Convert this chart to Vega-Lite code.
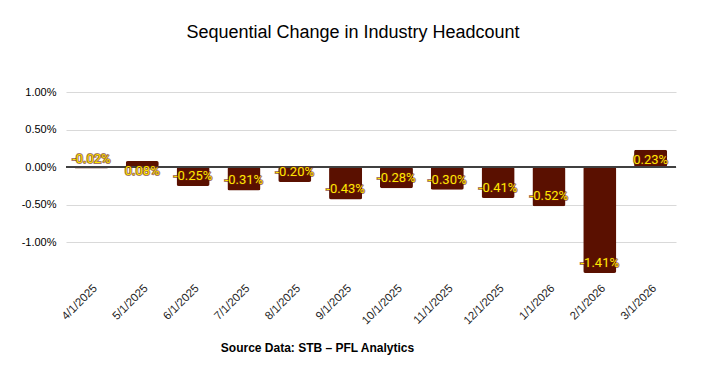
{
  "$schema": "https://vega.github.io/schema/vega-lite/v6.json",
  "autosize": {"type": "none"},
  "padding": {"left": 66, "top": 92, "right": 30, "bottom": 99},
  "width": 610,
  "height": 184,
  "background": "white",
  "title": {
    "text": "Sequential Change in Industry Headcount",
    "font": "Liberation Sans",
    "fontSize": 18,
    "fontWeight": "normal",
    "color": "#000000",
    "anchor": "middle",
    "dx": -18,
    "offset": 44
  },
  "config": {
    "view": {"stroke": null},
    "locale": {"number": {"decimal": ".", "thousands": ",", "grouping": [3], "currency": ["$", ""], "minus": "-"}}
  },
  "data": {
    "values": [
      {"month": "4/1/2025", "change": -0.0002},
      {"month": "5/1/2025", "change": 0.0008},
      {"month": "6/1/2025", "change": -0.0025},
      {"month": "7/1/2025", "change": -0.0031},
      {"month": "8/1/2025", "change": -0.0020},
      {"month": "9/1/2025", "change": -0.0043},
      {"month": "10/1/2025", "change": -0.0028},
      {"month": "11/1/2025", "change": -0.0030},
      {"month": "12/1/2025", "change": -0.0041},
      {"month": "1/1/2026", "change": -0.0052},
      {"month": "2/1/2026", "change": -0.0141},
      {"month": "3/1/2026", "change": 0.0023}
    ]
  },
  "encoding": {
    "x": {
      "field": "month",
      "type": "nominal",
      "sort": null,
      "scale": {"paddingInner": 0.35, "paddingOuter": 0.175},
      "axis": {
        "title": "Source Data: STB \u2013 PFL Analytics",
        "titleFont": "Liberation Sans",
        "titleFontSize": 12,
        "titleFontWeight": "bold",
        "titleColor": "#000000",
        "titleX": 251,
        "titleY": 71,
        "titleAlign": "center",
        "titleBaseline": "middle",
        "labelAngle": -45,
        "labelFont": "Liberation Sans",
        "labelFontSize": 11.5,
        "labelColor": "#262626",
        "labelPadding": 6,
        "domain": false,
        "ticks": false,
        "grid": false
      }
    },
    "y": {
      "field": "change",
      "type": "quantitative",
      "scale": {"domain": [-0.0145, 0.01], "nice": false, "zero": true},
      "axis": {
        "title": null,
        "format": ".2%",
        "values": [-0.01, -0.005, 0, 0.005, 0.01],
        "labelFont": "Liberation Sans",
        "labelFontSize": 11,
        "labelColor": "#000000",
        "labelPadding": 10,
        "domain": false,
        "ticks": false,
        "grid": true,
        "gridColor": "#d9d9d9",
        "gridWidth": 1
      }
    }
  },
  "layer": [
    {"mark": {"type": "bar", "color": "#5a1000", "cornerRadius": 2}},
    {
      "mark": {"type": "rule", "color": "#404040", "strokeWidth": 1},
      "encoding": {"y": {"datum": 0, "type": "quantitative"}, "x": {"value": 0}, "x2": {"value": 610}}
    },
    {
      "transform": [{"filter": "datum.change < 0"}],
      "mark": {"type": "text", "font": "Roboto", "fontSize": 13, "dy": -10, "stroke": "#6a1a08", "strokeWidth": 2, "strokeOpacity": 0.6, "fill": "#6a1a08"},
      "encoding": {"text": {"field": "change", "format": ".2%"}}
    },
    {
      "transform": [{"filter": "datum.change >= 0"}],
      "mark": {"type": "text", "font": "Roboto", "fontSize": 13, "dy": 10, "stroke": "#6a1a08", "strokeWidth": 2, "strokeOpacity": 0.6, "fill": "#6a1a08"},
      "encoding": {"text": {"field": "change", "format": ".2%"}}
    },
    {
      "transform": [{"filter": "datum.change < 0"}],
      "mark": {"type": "text", "font": "Roboto", "fontSize": 13, "dy": -10, "fill": "#ffe800"},
      "encoding": {"text": {"field": "change", "format": ".2%"}}
    },
    {
      "transform": [{"filter": "datum.change >= 0"}],
      "mark": {"type": "text", "font": "Roboto", "fontSize": 13, "dy": 10, "fill": "#ffe800"},
      "encoding": {"text": {"field": "change", "format": ".2%"}}
    }
  ]
}
